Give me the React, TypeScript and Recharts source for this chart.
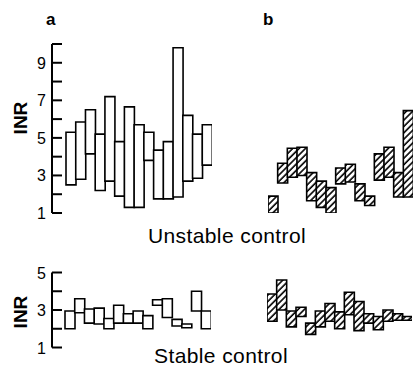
import { Bar, BarChart, XAxis, YAxis } from "recharts";

// 15 patients per group, INR range (lowest, highest)
const patients = ["1", "2", "3", "4", "5", "6", "7", "8", "9", "10", "11", "12", "13", "14", "15"];

const unstableALow = [2.5, 2.8, 4.15, 2.2, 2.7, 1.9, 1.3, 1.3, 3.8, 1.75, 1.75, 1.85, 2.7, 2.85, 3.55];
const unstableAHigh = [5.3, 5.85, 6.5, 5.2, 7.2, 4.8, 6.65, 5.7, 5.3, 4.35, 4.8, 9.8, 6.2, 5.2, 5.7];
const unstableBLow = [1.0, 2.6, 2.9, 3.0, 1.65, 1.3, 1.0, 2.55, 2.65, 1.65, 1.4, 2.75, 2.9, 1.85, 1.85];
const unstableBHigh = [1.9, 3.65, 4.45, 4.5, 3.15, 2.7, 2.35, 3.4, 3.6, 2.55, 1.9, 4.15, 4.5, 3.15, 6.45];

const stableALow = [2.0, 2.85, 2.3, 2.25, 2.0, 2.3, 2.3, 2.3, 2.0, 3.25, 2.6, 2.15, 2.05, 2.95, 2.0];
const stableAHigh = [2.95, 3.6, 3.05, 3.1, 2.55, 3.25, 2.8, 2.95, 2.7, 3.55, 3.6, 2.5, 2.25, 4.0, 2.95];
const stableBLow = [2.4, 3.0, 2.1, 2.65, 1.7, 2.1, 2.4, 2.0, 2.75, 1.9, 2.3, 1.95, 2.4, 2.45, 2.45];
const stableBHigh = [3.85, 4.6, 2.95, 3.15, 2.3, 2.95, 3.35, 2.9, 3.95, 3.45, 2.8, 2.65, 3.0, 2.8, 2.65];

const unstableTicks = [1, 2, 3, 4, 5, 6, 7, 8, 9, 10];
const unstableLabels = [1, 3, 5, 7, 9];
const stableTicks = [1, 2, 3, 4, 5];
const stableLabels = [1, 3, 5];

const FONT = '"Liberation Sans", Arial, sans-serif';

type Row = { patient: string; range: [number, number] };

const toRows = (low: number[], high: number[]): Row[] =>
  patients.map((p, i) => ({ patient: p, range: [low[i], high[i]] }));

function InrTick(props: any) {
  const { x, y, payload, labels } = props;
  return (
    <g>
      <line x1={x} x2={x + 10} y1={y} y2={y} stroke="#000" strokeWidth={2} />
      {labels.includes(payload.value) && (
        <text x={x - 6} y={y} dy={6} textAnchor="end" fontSize={16} fontFamily={FONT} fill="#000">
          {payload.value}
        </text>
      )}
    </g>
  );
}

interface PanelProps {
  rows: Row[];
  left: number;
  top: number;
  width: number;
  height: number;
  marginTop: number;
  padLeft: number;
  domain: [number, number];
  ticks: number[];
  labels: number[];
  withAxis: boolean;
  hatchId?: string;
}

const BOTTOM_ROOM = 12;

function Panel({ rows, left, top, width, height, marginTop, padLeft, domain, ticks, labels, withAxis, hatchId }: PanelProps) {
  return (
    <div style={{ position: "absolute", left, top }}>
      <BarChart
        width={width}
        height={height + BOTTOM_ROOM}
        data={rows}
        margin={{ top: marginTop, right: 0, bottom: BOTTOM_ROOM, left: 0 }}
        barCategoryGap={0}
        barGap={0}
      >
        {hatchId && (
          <defs>
            <pattern id={hatchId} patternUnits="userSpaceOnUse" width={4.5} height={4.5} patternTransform="rotate(45)">
              <rect width={4.5} height={4.5} fill="#fff" />
              <line x1={1} y1={0} x2={1} y2={4.5} stroke="#000" strokeWidth={1.6} />
            </pattern>
          </defs>
        )}
        <XAxis dataKey="patient" hide padding={{ left: padLeft, right: 0 }} />
        <YAxis
          hide={!withAxis}
          width={52}
          domain={domain}
          ticks={ticks}
          interval={0}
          allowDataOverflow
          axisLine={{ stroke: "#000", strokeWidth: 2 }}
          tickLine={false}
          tickSize={0}
          tickMargin={0}
          tick={<InrTick labels={labels} />}
        />
        <Bar
          dataKey="range"
          fill={hatchId ? `url(#${hatchId})` : "#fff"}
          stroke="#000"
          strokeWidth={1.6}
          isAnimationActive={false}
        />
      </BarChart>
    </div>
  );
}

export default function App() {
  return (
    <div
      style={{
        position: "absolute",
        left: 0,
        top: 0,
        width: 414,
        height: 370,
        background: "#fff",
        fontFamily: FONT,
        overflow: "hidden",
      }}
    >
      <Panel
        rows={toRows(unstableALow, unstableAHigh)}
        left={0}
        top={0}
        width={212}
        height={213}
        marginTop={44}
        padLeft={14}
        domain={[1, 10]}
        ticks={unstableTicks}
        labels={unstableLabels}
        withAxis
      />
      <Panel
        rows={toRows(unstableBLow, unstableBHigh)}
        left={268}
        top={0}
        width={145}
        height={213}
        marginTop={44}
        padLeft={0}
        domain={[1, 10]}
        ticks={unstableTicks}
        labels={unstableLabels}
        withAxis={false}
        hatchId="hatchTop"
      />
      <Panel
        rows={toRows(stableALow, stableAHigh)}
        left={0}
        top={250}
        width={211}
        height={97.5}
        marginTop={22.5}
        padLeft={13}
        domain={[1, 5]}
        ticks={stableTicks}
        labels={stableLabels}
        withAxis
      />
      <Panel
        rows={toRows(stableBLow, stableBHigh)}
        left={267}
        top={250}
        width={145}
        height={97.5}
        marginTop={22.5}
        padLeft={0}
        domain={[1, 5]}
        ticks={stableTicks}
        labels={stableLabels}
        withAxis={false}
        hatchId="hatchBottom"
      />
      <svg width={414} height={370} style={{ position: "absolute", left: 0, top: 0, pointerEvents: "none" }}>
        <g fontFamily={FONT} fill="#000">
          <text x={46} y={25} fontSize={17} fontWeight="bold">a</text>
          <text x={263} y={25} fontSize={17} fontWeight="bold">b</text>
          <text x={20} y={118} fontSize={19} fontWeight="bold" textAnchor="middle" dominantBaseline="central" transform="rotate(-90 20 118)">
            INR
          </text>
          <text x={20} y={312} fontSize={19} fontWeight="bold" textAnchor="middle" dominantBaseline="central" transform="rotate(-90 20 312)">
            INR
          </text>
          <text x={227} y={243} fontSize={21} letterSpacing={0.4} textAnchor="middle">Unstable control</text>
          <text x={221} y={363} fontSize={21} letterSpacing={0.4} textAnchor="middle">Stable control</text>
        </g>
      </svg>
    </div>
  );
}
